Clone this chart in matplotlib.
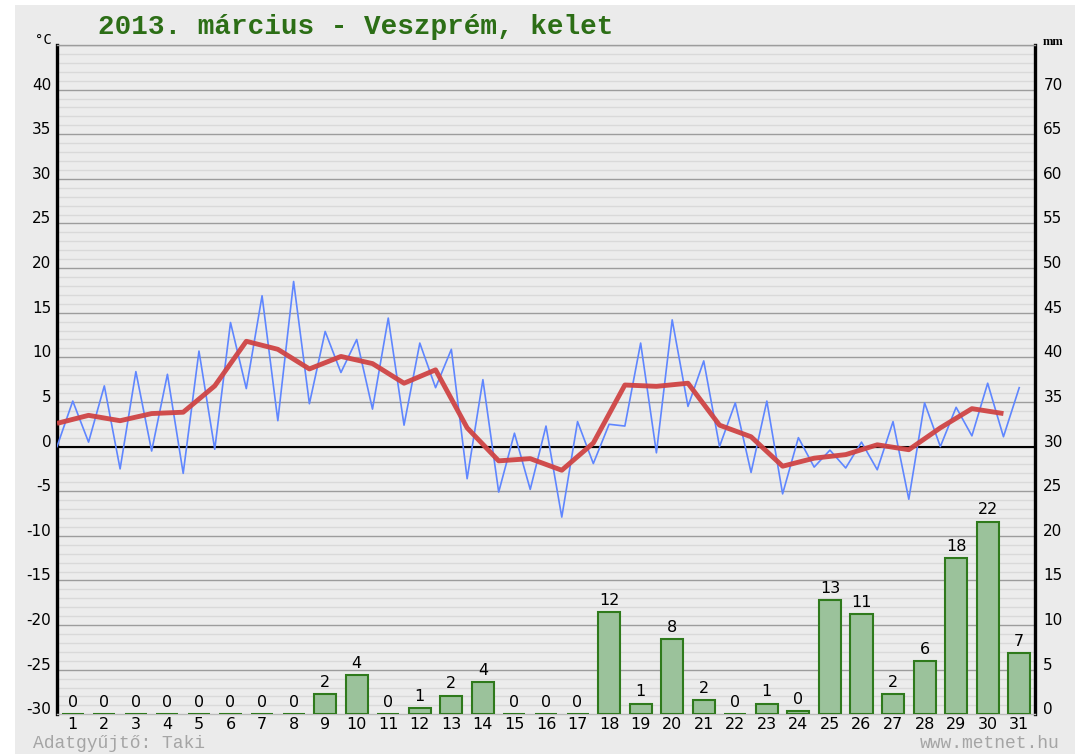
import matplotlib.pyplot as plt
import matplotlib.transforms as mtransforms
from matplotlib.patches import Rectangle

# daily data, March 2013, Veszprém
days = list(range(1, 32))

# temperature trace: min (at day-0.5) and max (at day), 62 points
temp_x = [d * 0.5 for d in range(1, 63)]
temp_minmax = [0.0, 5.1, 0.5, 6.8, -2.5, 8.4, -0.5, 8.1, -3.0, 10.7,
               -0.3, 13.9, 6.5, 16.9, 2.9, 18.5, 4.8, 12.9, 8.3, 12.0,
               4.2, 14.4, 2.4, 11.6, 6.6, 10.9, -3.6, 7.5, -5.1, 1.5,
               -4.8, 2.3, -7.9, 2.8, -1.9, 2.5, 2.3, 11.6, -0.7, 14.2,
               4.5, 9.6, 0.0, 4.9, -2.9, 5.1, -5.3, 1.0, -2.3, -0.4,
               -2.4, 0.5, -2.6, 2.8, -5.9, 4.9, 0.0, 4.4, 1.2, 7.1,
               1.1, 6.6]

# daily mean temperature
mean_x = [d - 0.5 for d in days]
temp_mean = [2.6, 3.5, 2.9, 3.7, 3.85, 6.8, 11.8, 10.9, 8.7, 10.1,
             9.3, 7.1, 8.6, 2.1, -1.6, -1.35, -2.65, 0.4, 6.9, 6.75,
             7.1, 2.4, 1.1, -2.2, -1.3, -0.9, 0.2, -0.35, 2.1, 4.25, 3.7]

# precipitation, mm
precip = [0, 0, 0, 0, 0, 0, 0, 0, 2.3, 4.4,
          0, 0.7, 2.1, 3.6, 0, 0, 0, 11.5, 1.2, 8.4,
          1.6, 0, 1.2, 0.4, 12.8, 11.2, 2.3, 6.0, 17.5, 21.6, 6.9]

left_ticks = list(range(-30, 41, 5))
right_ticks = list(range(0, 71, 5))

fig = plt.figure(figsize=(10.82, 7.54), dpi=100, facecolor='white')
fig.patches.append(Rectangle((15 / 1082, 0), 1060 / 1082, 749 / 754,
                             transform=fig.transFigure, facecolor='#ebebeb',
                             edgecolor='none', zorder=-10))

ax = fig.add_axes([57 / 1082, 39.7 / 754, 978 / 1082, 669.3 / 754])
ax.set_facecolor('#ececec')
ax.set_xlim(0.5, 31.5)
ax.set_ylim(-30, 45)

# grid: minor every 1 degree, major every 5
for t in range(-29, 45):
    if t % 5 == 0:
        continue
    ax.axhline(t, color='#d9d9d9', lw=1.0, zorder=0)
for t in range(-25, 46, 5):
    ax.axhline(t, color='#9c9c9c', lw=1.0, zorder=0.5)
ax.axhline(0, color='black', lw=1.5, zorder=1)

ax.plot(temp_x, temp_minmax, color='#5f86ff', lw=1.2, zorder=3)
ax.plot(mean_x, temp_mean, color='#cf4444', lw=3.5, alpha=0.95,
        solid_capstyle='butt', zorder=4)

ax.set_yticks(left_ticks)
ax.set_yticklabels([str(t) for t in left_ticks], fontsize=11)
ax.set_xticks(days)
ax.set_xticklabels([str(d) for d in days], fontsize=11.5)
ax.tick_params(axis='both', length=0, pad=4)
ax.tick_params(axis='x', pad=2)

for side in ['left', 'right']:
    ax.spines[side].set_linewidth(2.4)
    ax.spines[side].set_color('black')
ax.spines['top'].set_color('#9c9c9c')
ax.spines['top'].set_linewidth(1.0)
ax.spines['bottom'].set_color('#bbbbbb')
ax.spines['bottom'].set_linewidth(1.0)

# precipitation on the right axis
ax2 = ax.twinx()
ax2.set_ylim(0, 75)
bars = ax2.bar(days, precip, width=0.70, color='#9bc29b',
               edgecolor='#2f7a1c', linewidth=1.5, zorder=2)
ax2.bar_label(bars, labels=[str(round(p)) for p in precip], padding=3,
              fontsize=11.5)
ax2.set_yticks(right_ticks)
ax2.set_yticklabels([str(t) for t in right_ticks], fontsize=11)
ax2.tick_params(axis='y', length=0, pad=6)
for s in ax2.spines.values():
    s.set_visible(False)

# value labels sit a little above their grid lines
lift = mtransforms.ScaledTranslation(0, 6 / 100, fig.dpi_scale_trans)
for lab in ax.get_yticklabels() + ax2.get_yticklabels():
    lab.set_transform(lab.get_transform() + lift)

fig.text(98 / 1082, 1 - 27 / 754, '2013. március - Veszprém, kelet',
         family='Liberation Mono', weight='bold', fontsize=19.9,
         color='#2c6e16', va='center', ha='left')
fig.text(43 / 1082, 1 - 40 / 754, '°C', fontsize=10, va='center',
         ha='center', family='DejaVu Sans Mono')
fig.text(1053 / 1082, 1 - 42 / 754, 'mm', fontsize=9, va='center',
         ha='center', family='Liberation Serif', weight='bold')
fig.text(33 / 1082, 1 - 743 / 754, 'Adatgyűjtő: Taki',
         family='Liberation Mono', fontsize=13, color='#a5a5a5',
         va='center', ha='left')
fig.text(1060 / 1082, 1 - 743 / 754, 'www.metnet.hu',
         family='Liberation Mono', fontsize=13, color='#a5a5a5',
         va='center', ha='right')

fig.savefig('out.png', dpi=100)
